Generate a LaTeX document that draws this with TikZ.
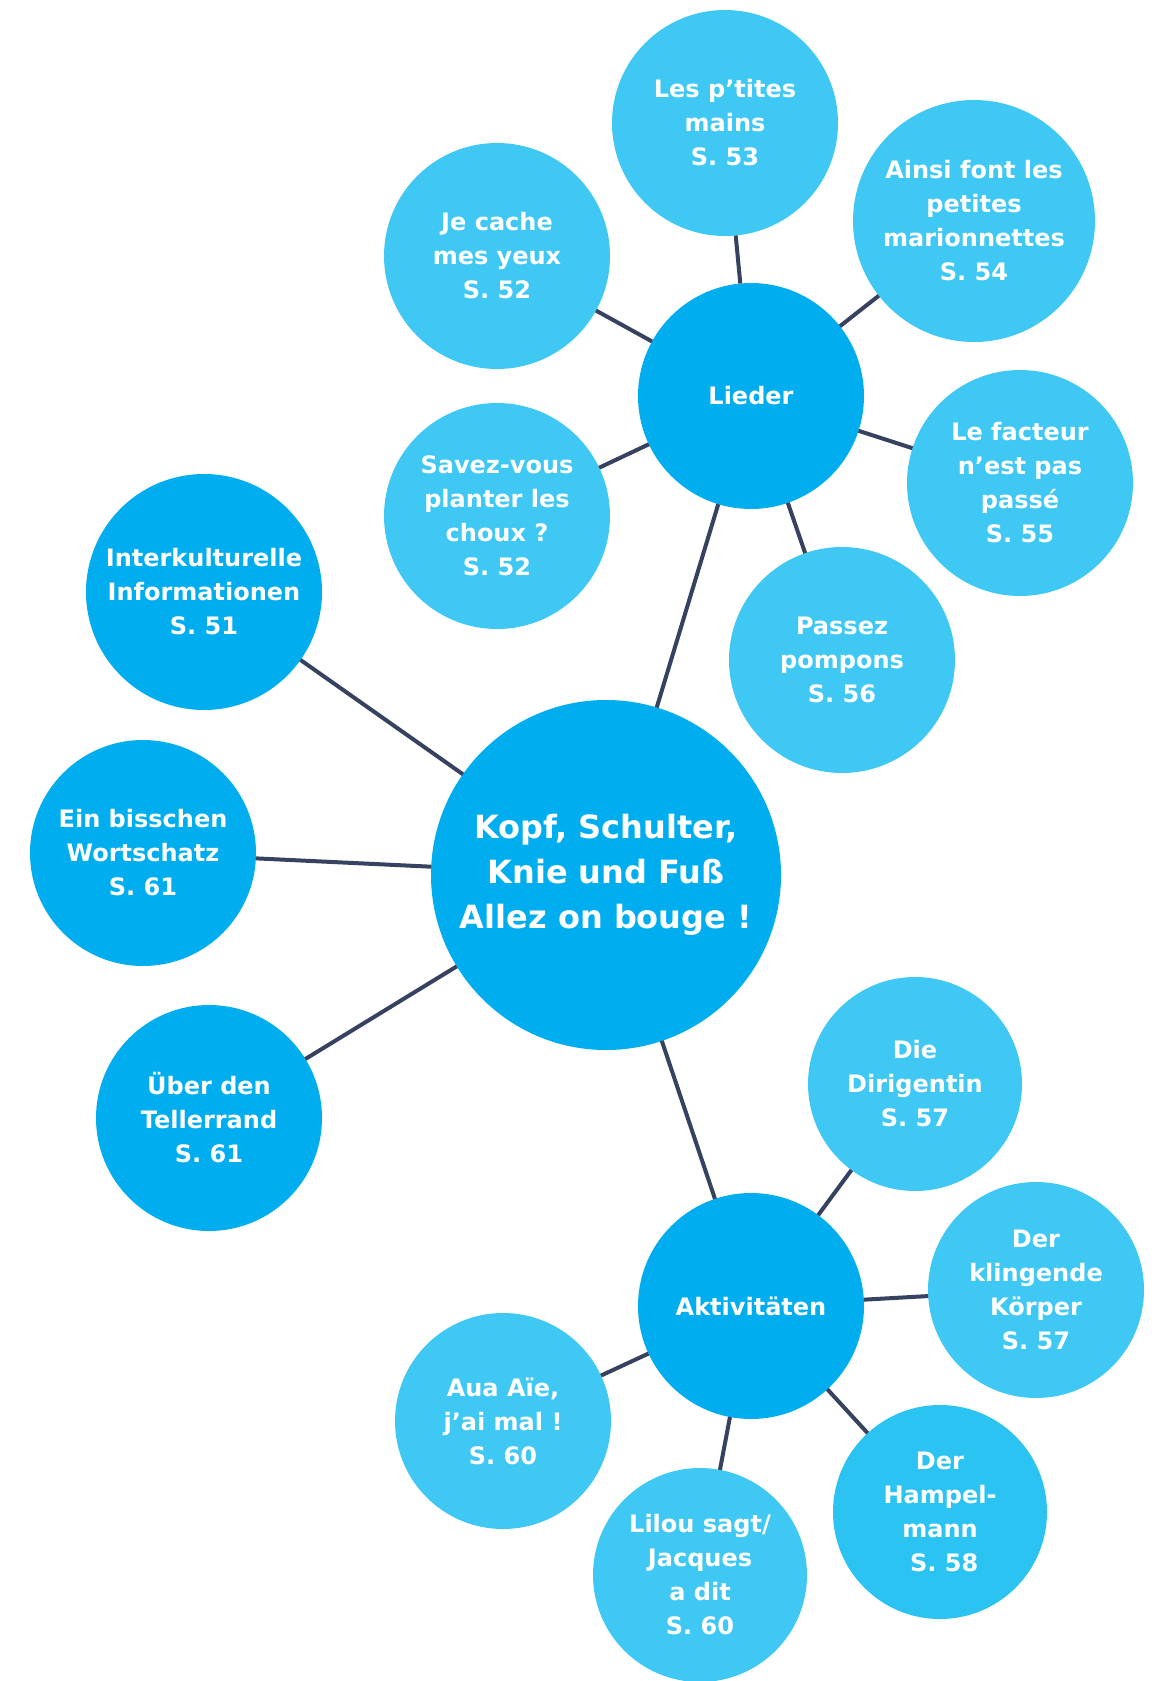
\documentclass[tikz,border=0pt]{standalone}
\usepackage{fontspec}
\setmainfont{DejaVu Sans}
\usepackage{tikz}

\definecolor{hubblue}{HTML}{00AEEF}
\definecolor{leafblue}{HTML}{40C8F4}
\definecolor{hampelblue}{HTML}{2BC3F2}
\definecolor{linknavy}{HTML}{36425F}

\begin{document}
\begin{tikzpicture}[x=0.5pt,y=-0.5pt,
  hub/.style={circle, fill=hubblue, text=white, inner sep=0pt, outer sep=0pt,
    font=\bfseries\fontsize{12}{17}\selectfont, align=center, minimum size=113pt},
  leaf/.style={hub, fill=leafblue},
  link/.style={draw=linknavy, line width=2pt}]
\useasboundingbox (0,0) rectangle (1158,1681);

% Mitte
\node[hub, minimum size=175pt, font=\bfseries\fontsize{16}{22.5}\selectfont] (kopf) at (606,875)
  {Kopf, Schulter,\\Knie und Fuß\\Allez on bouge !};

% Lieder
\node[hub] (lieder) at (751,396) {Lieder};
\node[leaf] (mains) at (725,123) {Les p’tites\\mains\\S. 53};
\node[leaf, minimum size=121pt] (ainsi) at (974,221) {Ainsi font les\\petites\\marionnettes\\S. 54};
\node[leaf] (yeux) at (497,256) {Je cache\\mes yeux\\S. 52};
\node[leaf] (choux) at (497,516) {Savez-vous\\planter les\\choux ?\\S. 52};
\node[leaf] (facteur) at (1020,483) {Le facteur\\n’est pas\\passé\\S. 55};
\node[leaf] (pompons) at (842,660) {Passez\\pompons\\S. 56};

% links
\node[hub, minimum size=118pt] (inter) at (204,592) {Interkulturelle\\Informationen\\S. 51};
\node[hub] (wort) at (143,853) {Ein bisschen\\Wortschatz\\S. 61};
\node[hub] (teller) at (209,1118) {Über den\\Tellerrand\\S. 61};

% Aktivitaeten
\node[hub] (akt) at (751,1306) {Aktivitäten};
\node[leaf, minimum size=107pt] (dirig) at (915,1084) {Die\\Dirigentin\\S. 57};
\node[leaf, minimum size=108pt] (koerper) at (1036,1290) {Der\\klingende\\Körper\\S. 57};
\node[leaf, minimum size=107pt, fill=hampelblue] (hampel) at (940,1512) {Der\\Hampel-\\mann\\\ S. 58};
\node[leaf, minimum size=107pt] (lilou) at (700,1575) {Lilou sagt/\\Jacques\\a dit\\S. 60};
\node[leaf, minimum size=108pt] (aua) at (503,1421) {Aua Aïe,\\j’ai mal !\\S. 60};

% Verbindungen
\draw[link] (kopf) -- (lieder);
\draw[link] (kopf) -- (akt);
\draw[link] (kopf) -- (inter);
\draw[link] (kopf) -- (wort);
\draw[link] (kopf) -- (teller);
\draw[link] (lieder) -- (mains);
\draw[link] (lieder) -- (ainsi);
\draw[link] (lieder) -- (yeux);
\draw[link] (lieder) -- (choux);
\draw[link] (lieder) -- (facteur);
\draw[link] (lieder) -- (pompons);
\draw[link] (akt) -- (dirig);
\draw[link] (akt) -- (koerper);
\draw[link] (akt) -- (hampel);
\draw[link] (akt) -- (lilou);
\draw[link] (akt) -- (aua);
\end{tikzpicture}
\end{document}
